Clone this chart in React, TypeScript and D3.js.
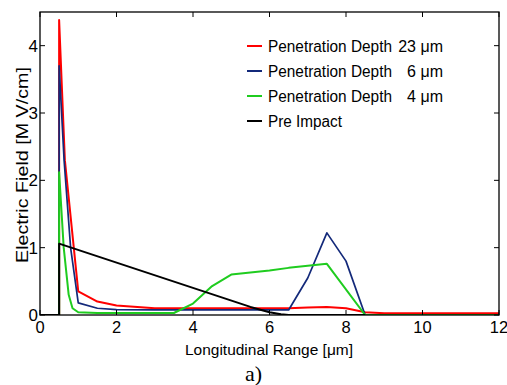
import React from "react";
import * as d3 from "d3";

// Longitudinal range samples [µm] and electric field values [MV/cm] per penetration depth
const redX = [0, 0.5, 0.5, 0.65, 1.0, 1.5, 2, 3, 4, 5, 6, 6.5, 7, 7.5, 8, 8.5, 9, 10, 11, 12];
const redY = [0, 0, 4.38, 2.3, 0.35, 0.2, 0.14, 0.1, 0.1, 0.1, 0.1, 0.1, 0.11, 0.12, 0.1, 0.04, 0.025, 0.025, 0.025, 0.025];

const blueX = [0, 0.5, 0.5, 0.63, 0.8, 1.0, 1.5, 2, 3, 4, 5, 6, 6.5, 7, 7.5, 8, 8.5, 9, 10, 11, 12];
const blueY = [0, 0, 3.7, 2.3, 1.0, 0.18, 0.1, 0.08, 0.075, 0.075, 0.075, 0.075, 0.075, 0.55, 1.22, 0.8, 0, 0, 0, 0, 0];

const greenX = [0, 0.5, 0.5, 0.62, 0.75, 0.85, 1.0, 1.5, 2, 3, 3.5, 4, 4.5, 5, 5.5, 6, 6.5, 7, 7.5, 8.5, 9, 10, 11, 12];
const greenY = [0, 0, 2.12, 1.0, 0.3, 0.1, 0.04, 0.03, 0.03, 0.03, 0.03, 0.17, 0.43, 0.6, 0.63, 0.66, 0.7, 0.73, 0.76, 0, 0, 0, 0, 0];

const blackX = [0, 0.5, 0.5, 5.5, 6, 6.3, 6.5, 8.5];
const blackY = [0, 0, 1.06, 0.12, 0.04, 0.01, 0, 0];

const xTicks = [0, 2, 4, 6, 8, 10, 12];
const yTicks = [0, 1, 2, 3, 4];

const seriesNames = ["Penetration Depth", "Penetration Depth", "Penetration Depth", "Pre Impact"];
const seriesDepths = ["23 \u03bcm", "6 \u03bcm", "4 \u03bcm", ""];
const seriesColors = ["#ff0000", "#13297a", "#1fcc1f", "#000000"];

const W = 507;
const H = 385;
const left = 40;
const right = 499;
const top = 12;
const bottom = 315;

const FONT = "'Liberation Sans Narrow', 'Liberation Sans', Arial, sans-serif";

export default function App() {
  const x = d3.scaleLinear().domain([0, 12]).range([left, right]);
  const y = d3.scaleLinear().domain([0, 4.5]).range([bottom, top]);

  const line = d3
    .line<[number, number]>()
    .x((d) => x(d[0]))
    .y((d) => y(d[1]));

  const series = [
    { xs: redX, ys: redY, w: 2 },
    { xs: blueX, ys: blueY, w: 1.7 },
    { xs: greenX, ys: greenY, w: 2 },
    { xs: blackX, ys: blackY, w: 2 },
  ];

  const tickLen = 5;

  return (
    <svg
      width={W}
      height={H}
      style={{ position: "absolute", left: 0, top: 0, background: "#fff" }}
    >
      <defs>
        <clipPath id="plotClip">
          <rect x={left} y={top} width={right - left} height={bottom - top} />
        </clipPath>
      </defs>
      <rect x={0} y={0} width={W} height={H} fill="#fff" />

      {/* data lines */}
      <g clipPath="url(#plotClip)">
        {series.map((s, i) => (
          <path
            key={i}
            d={line(s.xs.map((v, k) => [v, s.ys[k]] as [number, number])) || ""}
            fill="none"
            stroke={seriesColors[i]}
            strokeWidth={s.w}
            strokeLinejoin="round"
          />
        ))}
      </g>

      {/* axes box */}
      <rect
        x={left}
        y={top}
        width={right - left}
        height={bottom - top}
        fill="none"
        stroke="#000"
        strokeWidth={1.3}
      />

      {/* x ticks, inward on bottom and top */}
      {xTicks.map((t) => (
        <g key={"x" + t}>
          <line x1={x(t)} x2={x(t)} y1={bottom} y2={bottom - tickLen} stroke="#000" />
          <line x1={x(t)} x2={x(t)} y1={top} y2={top + tickLen} stroke="#000" />
          <text
            x={x(t)}
            y={333}
            textAnchor="middle"
            fontFamily={FONT}
            fontSize={16.5}
            fill="#000"
          >
            {t}
          </text>
        </g>
      ))}

      {/* y ticks, inward on left and right */}
      {yTicks.map((t) => (
        <g key={"y" + t}>
          <line x1={left} x2={left + tickLen} y1={y(t)} y2={y(t)} stroke="#000" />
          <line x1={right} x2={right - tickLen} y1={y(t)} y2={y(t)} stroke="#000" />
          <text
            x={38}
            y={y(t) + 6}
            textAnchor="end"
            fontFamily={FONT}
            fontSize={17}
            fill="#000"
          >
            {t}
          </text>
        </g>
      ))}

      {/* axis labels */}
      <text
        x={185}
        y={355}
        fontFamily={FONT}
        fontSize={15.5}
        textLength={168}
        lengthAdjust="spacingAndGlyphs"
        fill="#000"
      >
        Longitudinal Range [{"\u03bc"}m]
      </text>
      <text
        transform="translate(28,165) rotate(-90)"
        textAnchor="middle"
        fontFamily={FONT}
        fontSize={17}
        textLength={196}
        lengthAdjust="spacingAndGlyphs"
        fill="#000"
      >
        Electric Field [M V/cm]
      </text>

      {/* legend */}
      {seriesNames.map((name, i) => {
        const ly = 46 + i * 25;
        return (
          <g key={"lg" + i}>
            <line x1={247} x2={262} y1={ly} y2={ly} stroke={seriesColors[i]} strokeWidth={2} />
            <text
              x={268}
              y={ly + 6}
              fontFamily={FONT}
              fontSize={16}
              textLength={name === "Pre Impact" ? 74 : 124}
              lengthAdjust="spacingAndGlyphs"
              fill="#000"
            >
              {name}
            </text>
            {seriesDepths[i] && (
              <text
                x={443}
                y={ly + 6}
                textAnchor="end"
                fontFamily={FONT}
                fontSize={16}
                fill="#000"
              >
                {seriesDepths[i]}
              </text>
            )}
          </g>
        );
      })}

      {/* panel label */}
      <text
        x={245}
        y={381}
        fontFamily="'Liberation Serif', 'Times New Roman', serif"
        fontSize={22}
        fill="#000"
      >
        a)
      </text>
    </svg>
  );
}
